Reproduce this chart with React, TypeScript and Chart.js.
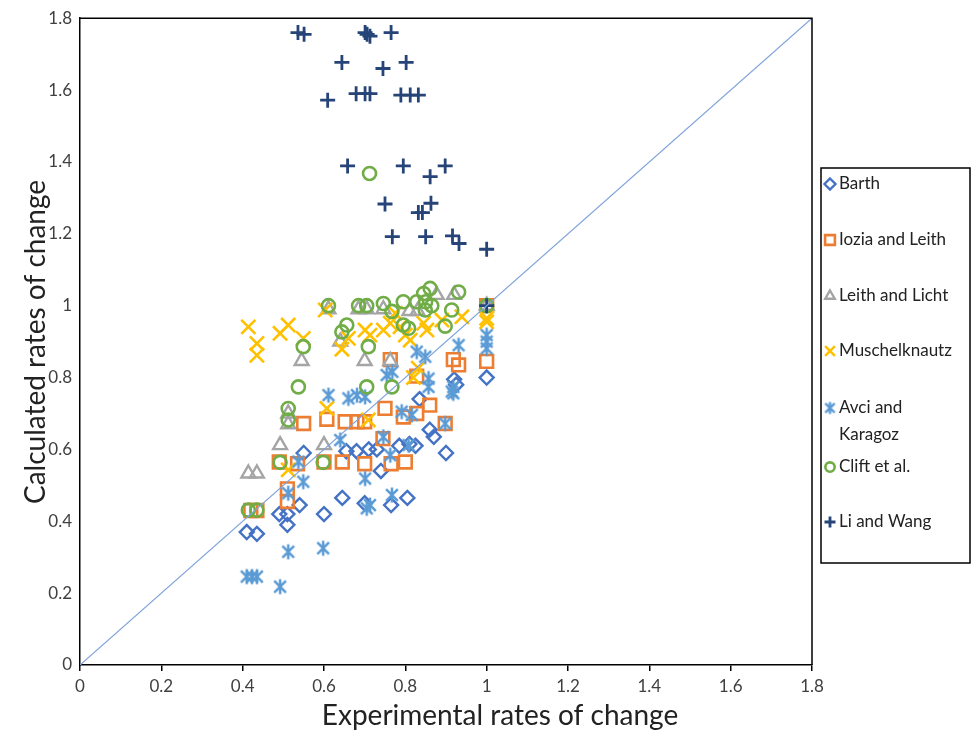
import React, { useEffect, useRef } from "react";
import { Chart, registerables } from "chart.js";

Chart.register(...registerables);

// Experimental (x) vs calculated (y) rates of change per model
const barth = [
  [0.41, 0.37], [0.435, 0.365], [0.49, 0.42], [0.51, 0.42], [0.51, 0.39], [0.54, 0.445],
  [0.55, 0.59], [0.6, 0.42], [0.645, 0.465], [0.655, 0.595], [0.68, 0.595], [0.71, 0.6],
  [0.73, 0.6], [0.7, 0.45], [0.74, 0.54], [0.765, 0.445], [0.805, 0.465], [0.785, 0.61],
  [0.81, 0.615], [0.825, 0.61], [0.835, 0.74], [0.86, 0.655], [0.87, 0.635], [0.9, 0.59],
  [0.92, 0.795], [0.925, 0.78], [1.0, 0.8],
];
const iozia = [
  [0.42, 0.43], [0.435, 0.43], [0.49, 0.565], [0.51, 0.49], [0.51, 0.455], [0.535, 0.56],
  [0.6, 0.565], [0.645, 0.565], [0.7, 0.56], [0.765, 0.56], [0.8, 0.565], [0.55, 0.672],
  [0.607, 0.684], [0.652, 0.677], [0.681, 0.677], [0.7, 0.677], [0.745, 0.63], [0.75, 0.714],
  [0.795, 0.69], [0.828, 0.7], [0.86, 0.723], [0.898, 0.672], [0.763, 0.85], [0.828, 0.804],
  [0.918, 0.85], [0.931, 0.835], [1.0, 0.845], [1.0, 1.0],
];
const leithLicht = [
  [0.414, 0.533], [0.435, 0.533], [0.492, 0.612], [0.6, 0.612], [0.545, 0.846], [0.7, 0.846],
  [0.763, 0.846], [0.64, 0.9], [0.611, 0.99], [0.685, 0.99], [0.705, 0.99], [0.746, 0.99],
  [0.81, 0.985], [0.83, 0.985], [0.877, 1.03], [0.92, 1.03], [0.512, 0.7], [0.512, 0.67],
  [1.0, 1.0],
];
const muschelknautz = [
  [0.414, 0.941], [0.435, 0.895], [0.435, 0.862], [0.492, 0.923], [0.512, 0.946], [0.549, 0.909],
  [0.603, 0.988], [0.644, 0.879], [0.66, 0.909], [0.701, 0.932], [0.713, 0.918], [0.746, 0.932],
  [0.763, 0.951], [0.775, 0.979], [0.787, 0.941], [0.8, 0.918], [0.812, 0.904], [0.845, 0.951],
  [0.853, 0.932], [0.89, 0.96], [0.939, 0.969], [1.0, 0.965], [1.0, 0.955], [0.832, 0.826],
  [0.82, 0.8], [0.607, 0.714], [0.709, 0.682], [0.512, 0.543],
];
const avciKaragoz = [
  [0.41, 0.246], [0.423, 0.246], [0.435, 0.246], [0.492, 0.218], [0.512, 0.315], [0.598, 0.325],
  [0.512, 0.478], [0.549, 0.51], [0.537, 0.566], [0.64, 0.626], [0.611, 0.751], [0.66, 0.742],
  [0.681, 0.751], [0.701, 0.746], [0.754, 0.807], [0.768, 0.816], [0.828, 0.872], [0.849, 0.858],
  [0.931, 0.89], [1.0, 0.918], [1.0, 0.9], [1.0, 0.881], [0.857, 0.797], [0.857, 0.774],
  [0.918, 0.774], [0.918, 0.756], [0.791, 0.705], [0.816, 0.696], [0.746, 0.635], [0.701, 0.519],
  [0.705, 0.436], [0.713, 0.445], [0.767, 0.473], [0.808, 0.612], [0.763, 0.584], [0.898, 0.672],
  [0.914, 0.761],
];
const clift = [
  [0.712, 1.368], [0.611, 1.0], [0.685, 1.0], [0.705, 1.0], [0.746, 1.006], [0.767, 0.984],
  [0.795, 1.011], [0.828, 1.011], [0.845, 1.034], [0.861, 1.048], [0.85, 1.011], [0.865, 1.0],
  [0.849, 0.988], [0.914, 0.988], [0.931, 1.038], [0.795, 0.946], [0.808, 0.937], [0.898, 0.943],
  [0.656, 0.946], [0.644, 0.927], [0.549, 0.886], [0.709, 0.886], [0.537, 0.774], [0.512, 0.714],
  [0.512, 0.682], [0.705, 0.774], [0.767, 0.774], [0.492, 0.564], [0.598, 0.564], [0.414, 0.431],
  [0.435, 0.431], [1.0, 1.0],
];
const liWang = [
  [0.536, 1.76], [0.551, 1.755], [0.701, 1.76], [0.706, 1.755], [0.713, 1.75], [0.765, 1.76],
  [0.644, 1.677], [0.745, 1.66], [0.802, 1.677], [0.609, 1.572], [0.679, 1.59], [0.701, 1.59],
  [0.713, 1.59], [0.789, 1.586], [0.812, 1.586], [0.832, 1.586], [0.658, 1.389], [0.795, 1.389],
  [0.861, 1.359], [0.898, 1.389], [0.75, 1.283], [0.832, 1.259], [0.842, 1.259], [0.863, 1.285],
  [0.768, 1.192], [0.85, 1.192], [0.916, 1.194], [0.932, 1.173], [1.0, 1.157], [1.0, 1.0],
];
const parity = [[0, 0], [1.8, 1.8]];

const axisMin = 0;
const axisMax = 1.8;
const axisStep = 0.2;

const FONT = "Lato, 'Open Sans', sans-serif";
const TEXT = "#404040";

// asterisk marker: diagonal cross plus a vertical stroke
function makeStar(color: string, r: number, lw: number) {
  const size = Math.ceil(r * 2 + lw * 2 + 2);
  const c = document.createElement("canvas");
  c.width = size;
  c.height = size;
  const g = c.getContext("2d")!;
  const m = size / 2;
  const d = r * 0.78;
  g.strokeStyle = color;
  g.lineWidth = lw;
  g.lineCap = "butt";
  g.beginPath();
  g.moveTo(m - d, m - d); g.lineTo(m + d, m + d);
  g.moveTo(m + d, m - d); g.lineTo(m - d, m + d);
  g.moveTo(m, m - r); g.lineTo(m, m + r);
  g.stroke();
  return c;
}

type Series = { label: string; lines: string[]; data: number[][]; color: string; style: any; radius: number; lw: number };

export default function App() {
  const ref = useRef<HTMLCanvasElement | null>(null);

  useEffect(() => {
    const starBig = makeStar("#5B9BD5", 7.5, 2.5);
    const starSmall = makeStar("#5B9BD5", 6, 2.4);

    const series: Series[] = [
      { label: "Barth", lines: ["Barth"], data: barth, color: "#4472C4", style: "rectRot", radius: 7, lw: 2.4 },
      { label: "Iozia and Leith", lines: ["Iozia and Leith"], data: iozia, color: "#ED7D31", style: "rect", radius: 9, lw: 2.6 },
      { label: "Leith and Licht", lines: ["Leith and Licht"], data: leithLicht, color: "#A5A5A5", style: "triangle", radius: 8, lw: 2.4 },
      { label: "Muschelknautz", lines: ["Muschelknautz"], data: muschelknautz, color: "#FFC000", style: "crossRot", radius: 10, lw: 2.6 },
      { label: "Avci and Karagoz", lines: ["Avci and", "Karagoz"], data: avciKaragoz, color: "#5B9BD5", style: starBig, radius: 7.5, lw: 2.5 },
      { label: "Clift et al.", lines: ["Clift et al."], data: clift, color: "#70AD47", style: "circle", radius: 6.5, lw: 2.6 },
      { label: "Li and Wang", lines: ["Li and Wang"], data: liWang, color: "#264478", style: "cross", radius: 7.5, lw: 2.8 },
    ];

    const n = series.length;
    const datasets: any[] = series.map((s, i) => ({
      label: s.label,
      type: "scatter",
      data: s.data.map(([x, y]) => ({ x, y })),
      pointStyle: s.style,
      pointRadius: s.radius,
      pointBorderWidth: s.lw,
      borderColor: s.color,
      backgroundColor: "rgba(255,255,255,0)",
      order: n - i + 1,
    }));
    datasets.push({
      label: "y = x",
      type: "line",
      data: parity.map(([x, y]) => ({ x, y })),
      borderColor: "#7FA3DA",
      borderWidth: 1.2,
      pointRadius: 0,
      fill: false,
      order: 0,
    });

    const decorations = {
      id: "decorations",
      afterDraw(chart: any) {
        const ctx = chart.ctx;
        const a = chart.chartArea;
        ctx.save();
        // plot frame
        ctx.strokeStyle = "#000";
        ctx.lineWidth = 1.5;
        ctx.beginPath();
        ctx.moveTo(a.left, a.top);
        ctx.lineTo(a.right, a.top);
        ctx.lineTo(a.right, a.bottom);
        ctx.stroke();

        // axis titles
        ctx.fillStyle = "#222";
        ctx.font = `28px ${FONT}`;
        ctx.textAlign = "center";
        ctx.textBaseline = "middle";
        ctx.fillText("Experimental rates of change", 500, 716);
        ctx.save();
        ctx.translate(36, 342);
        ctx.rotate(-Math.PI / 2);
        ctx.fillText("Calculated rates of change", 0, 0);
        ctx.restore();

        // legend
        const lx = 821, ly = 168, lw = 149, lh = 395;
        ctx.strokeStyle = "#000";
        ctx.lineWidth = 1.5;
        ctx.strokeRect(lx, ly, lw, lh);
        const rows = [184, 240, 296, 351, 408, 467, 522];
        ctx.font = `17px ${FONT}`;
        ctx.textAlign = "left";
        ctx.fillStyle = "#222";
        series.forEach((s, i) => {
          const y = rows[i];
          const mx = 830;
          ctx.strokeStyle = s.color;
          ctx.lineWidth = s.lw;
          const r = s.style === "crossRot" ? 7 : s.style === "rect" ? 7 : 5.5;
          if (typeof s.style === "string") {
            ctx.beginPath();
            if (s.style === "rectRot") {
              ctx.moveTo(mx, y - r); ctx.lineTo(mx + r, y); ctx.lineTo(mx, y + r); ctx.lineTo(mx - r, y); ctx.closePath();
            } else if (s.style === "rect") {
              const h = r * 0.7;
              ctx.rect(mx - h, y - h, 2 * h, 2 * h);
            } else if (s.style === "triangle") {
              ctx.moveTo(mx, y - r); ctx.lineTo(mx + r * 0.87, y + r * 0.5); ctx.lineTo(mx - r * 0.87, y + r * 0.5); ctx.closePath();
            } else if (s.style === "crossRot") {
              const h = r * 0.7;
              ctx.moveTo(mx - h, y - h); ctx.lineTo(mx + h, y + h);
              ctx.moveTo(mx + h, y - h); ctx.lineTo(mx - h, y + h);
            } else if (s.style === "circle") {
              ctx.arc(mx, y, r * 0.85, 0, Math.PI * 2);
            } else if (s.style === "cross") {
              ctx.moveTo(mx - r, y); ctx.lineTo(mx + r, y);
              ctx.moveTo(mx, y - r); ctx.lineTo(mx, y + r);
            }
            ctx.stroke();
          } else {
            ctx.drawImage(starSmall, mx - starSmall.width / 2, y - starSmall.height / 2);
          }
          s.lines.forEach((t, k) => ctx.fillText(t, 839, y + k * 27));
        });
        ctx.restore();
      },
    };

    const tickFmt = (v: any) => Number(Number(v).toFixed(1)).toString();

    const chart = new Chart(ref.current!, {
      type: "scatter",
      data: { datasets },
      options: {
        animation: false,
        responsive: false,
        events: [],
        layout: { padding: { left: 0, right: 161, top: 17, bottom: 0 } },
        plugins: { legend: { display: false }, tooltip: { enabled: false } },
        scales: {
          x: {
            type: "linear",
            min: axisMin,
            max: axisMax,
            afterFit(scale: any) { scale.height = 71; },
            ticks: { stepSize: axisStep, color: TEXT, font: { family: FONT, size: 17 }, padding: 5, callback: tickFmt, maxRotation: 0 },
            grid: { drawOnChartArea: false, drawTicks: true, tickLength: 6, color: "#000", lineWidth: 1.5 },
            border: { display: true, color: "#000", width: 1.5 },
          },
          y: {
            type: "linear",
            min: axisMin,
            max: axisMax,
            afterFit(scale: any) { scale.width = 80; },
            ticks: { stepSize: axisStep, color: TEXT, font: { family: FONT, size: 17 }, padding: 8, callback: tickFmt },
            grid: { drawOnChartArea: false, drawTicks: false, color: "#000" },
            border: { display: true, color: "#000", width: 1.5 },
          },
        },
      },
      plugins: [decorations],
    } as any);

    return () => chart.destroy();
  }, []);

  return (
    <div style={{ position: "absolute", left: 0, top: 0, width: 973, height: 736, background: "#fff" }}>
      <canvas ref={ref} width={973} height={736} style={{ display: "block" }} />
    </div>
  );
}
